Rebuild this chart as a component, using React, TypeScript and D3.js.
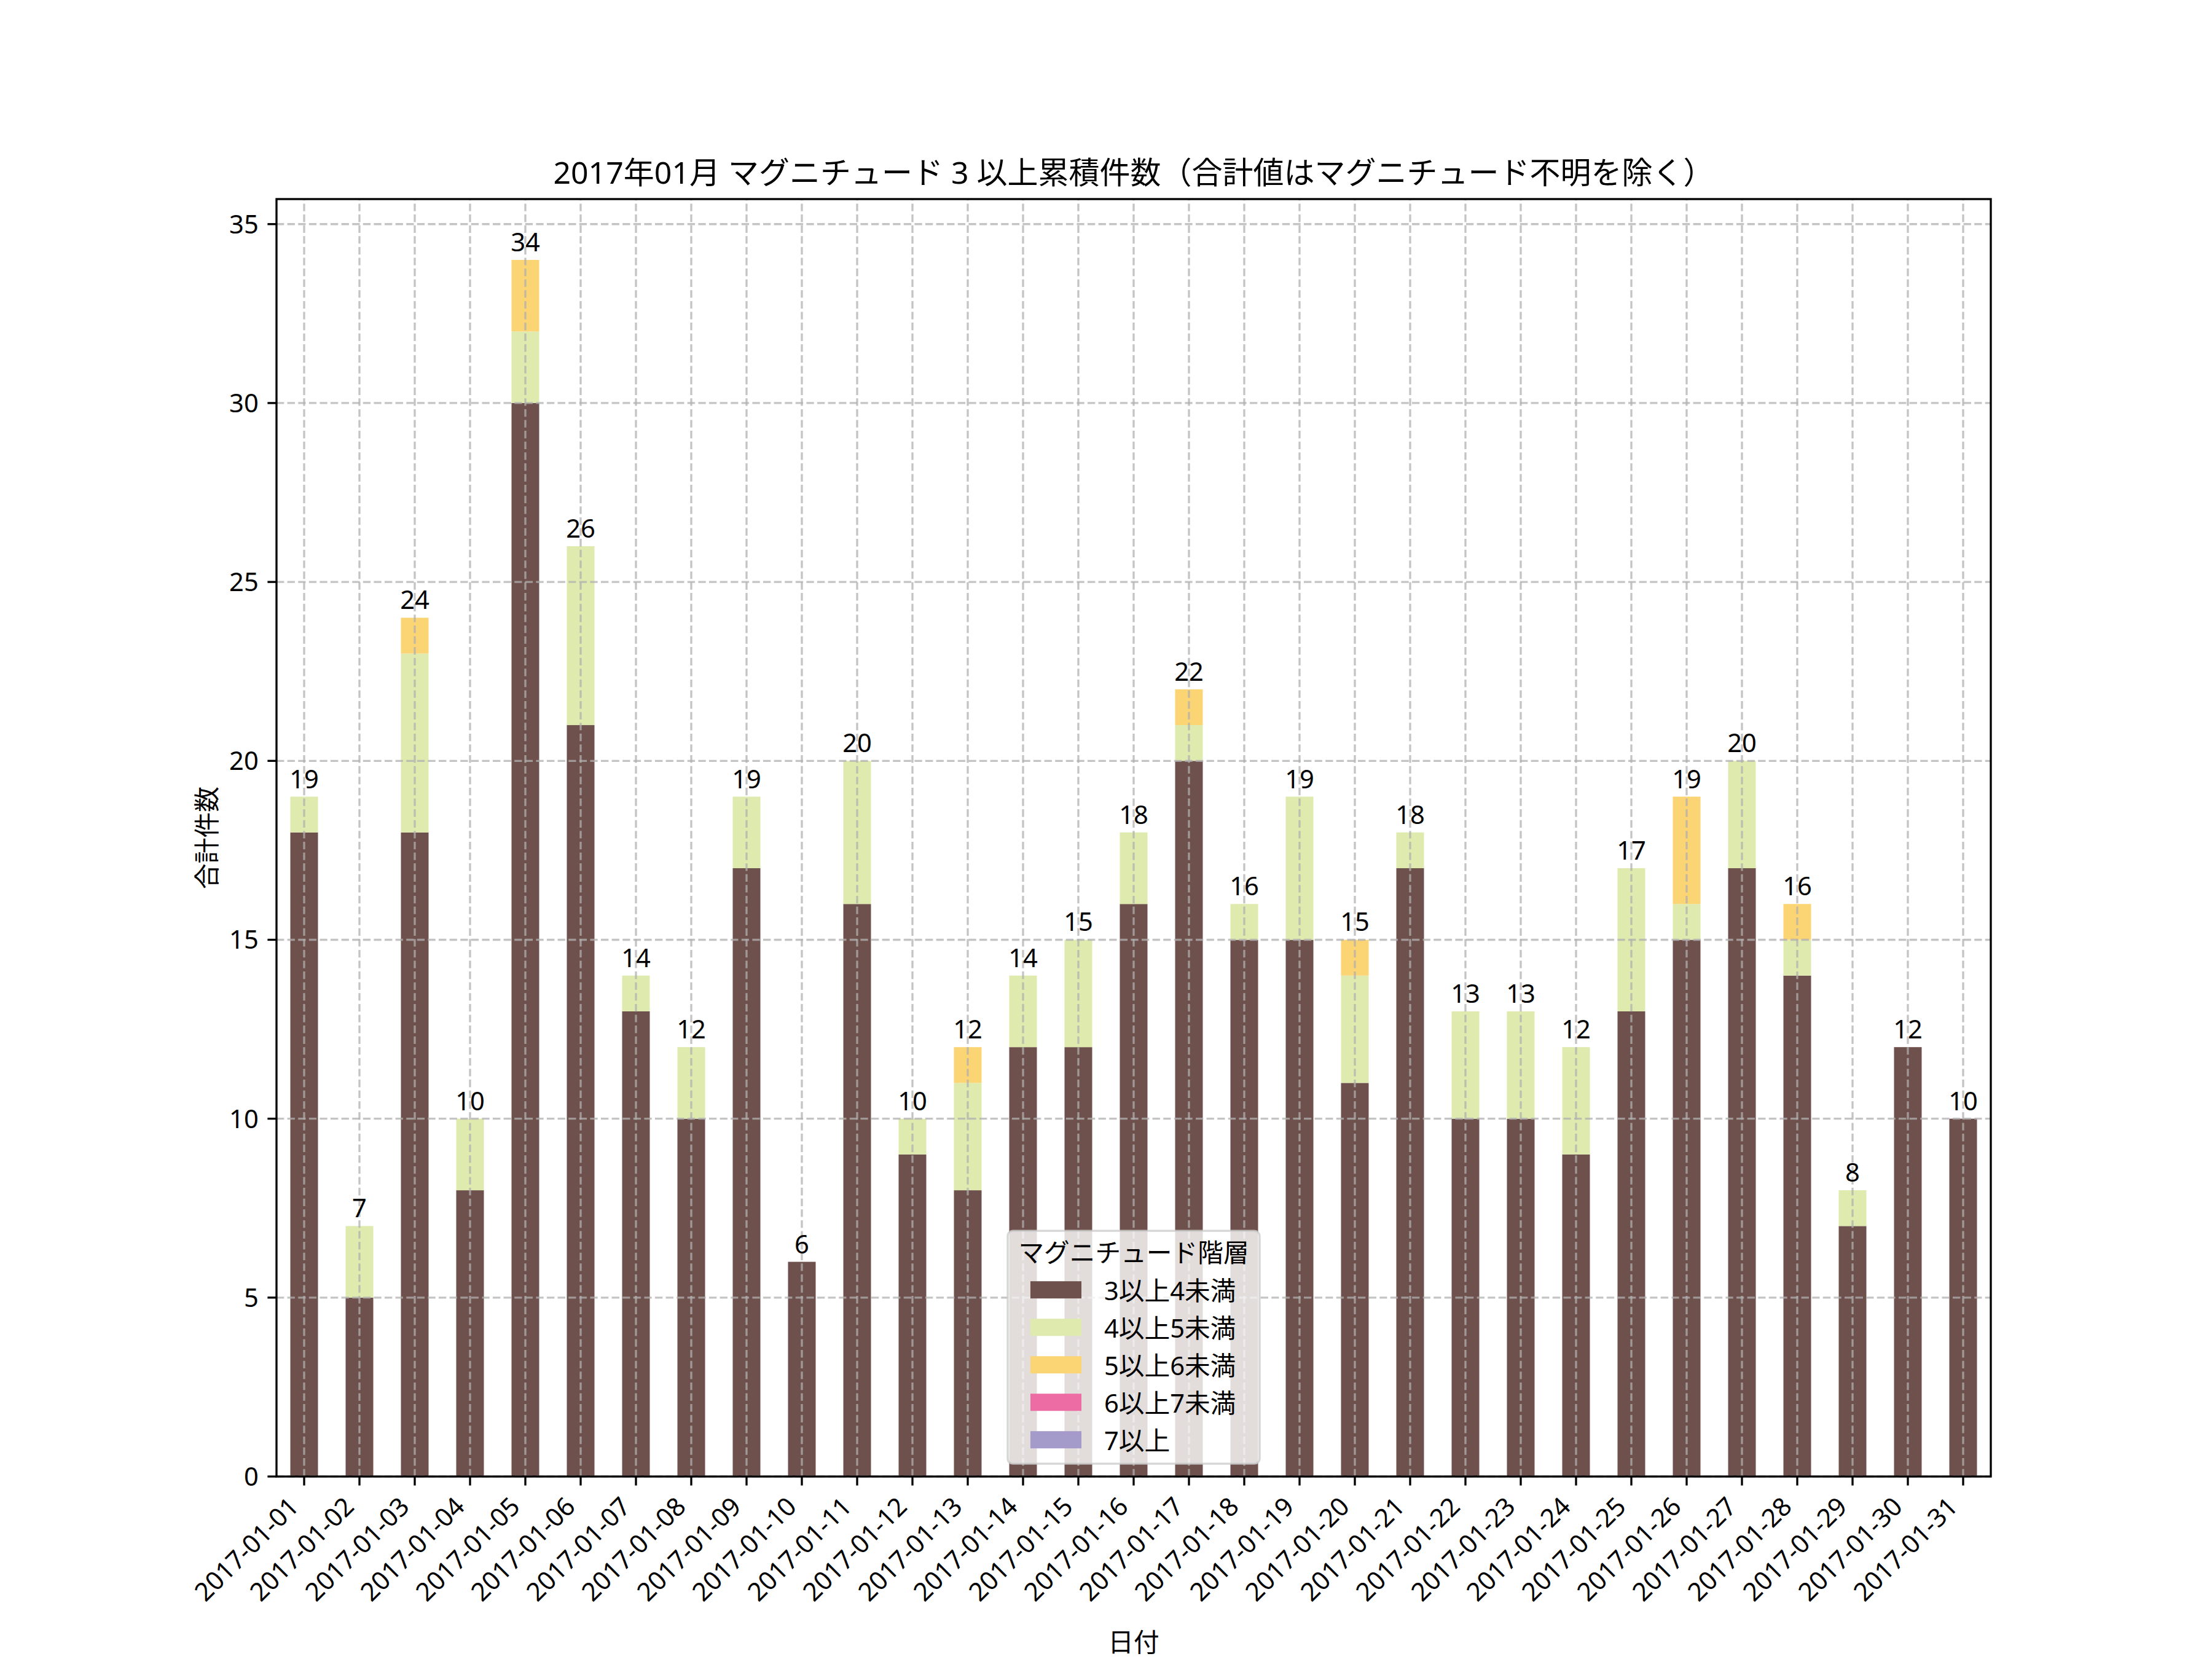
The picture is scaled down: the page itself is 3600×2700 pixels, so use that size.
import * as React from 'react'
import * as d3 from 'd3'

// 2017年01月 マグニチュード別 日別件数
const dates = [
  '2017-01-01', '2017-01-02', '2017-01-03', '2017-01-04', '2017-01-05', '2017-01-06', '2017-01-07',
  '2017-01-08', '2017-01-09', '2017-01-10', '2017-01-11', '2017-01-12', '2017-01-13', '2017-01-14',
  '2017-01-15', '2017-01-16', '2017-01-17', '2017-01-18', '2017-01-19', '2017-01-20', '2017-01-21',
  '2017-01-22', '2017-01-23', '2017-01-24', '2017-01-25', '2017-01-26', '2017-01-27', '2017-01-28',
  '2017-01-29', '2017-01-30', '2017-01-31',
]
const m3to4 = [18, 5, 18, 8, 30, 21, 13, 10, 17, 6, 16, 9, 8, 12, 12, 16, 20, 15, 15, 11, 17, 10, 10, 9, 13, 15, 17, 14, 7, 12, 10]
const m4to5 = [1, 2, 5, 2, 2, 5, 1, 2, 2, 0, 4, 1, 3, 2, 3, 2, 1, 1, 4, 3, 1, 3, 3, 3, 4, 1, 3, 1, 1, 0, 0]
const m5to6 = [0, 0, 1, 0, 2, 0, 0, 0, 0, 0, 0, 0, 1, 0, 0, 0, 1, 0, 0, 1, 0, 0, 0, 0, 0, 3, 0, 1, 0, 0, 0]
const m6to7 = [0, 0, 0, 0, 0, 0, 0, 0, 0, 0, 0, 0, 0, 0, 0, 0, 0, 0, 0, 0, 0, 0, 0, 0, 0, 0, 0, 0, 0, 0, 0]
const m7plus = [0, 0, 0, 0, 0, 0, 0, 0, 0, 0, 0, 0, 0, 0, 0, 0, 0, 0, 0, 0, 0, 0, 0, 0, 0, 0, 0, 0, 0, 0, 0]

const keys = ['3以上4未満', '4以上5未満', '5以上6未満', '6以上7未満', '7以上']
const series = [m3to4, m4to5, m5to6, m6to7, m7plus]
const colors = ['#6e514c', '#dfeaae', '#fbd474', '#ec6ca3', '#a59bca']
const yTicks = [0, 5, 10, 15, 20, 25, 30, 35]

const W = 3600
const H = 2700
const margin = { left: 450, right: 360, top: 324, bottom: 297 }
const FONT = '"Noto Sans", "Noto Sans CJK JP", sans-serif'
const FS = 41.7
const LW = 3.33

export default function App () {
  const rows = dates.map((d, i) => {
    const r: any = { date: d }
    keys.forEach((k, j) => { r[k] = series[j][i] })
    return r
  })
  const totals = dates.map((_, i) => d3.sum(series, s => s[i]))
  const stacked = d3.stack().keys(keys)(rows)

  const x0 = margin.left
  const x1 = W - margin.right
  const y0 = H - margin.bottom
  const y1 = margin.top

  const x = d3.scaleBand().domain(dates).range([x0, x1]).paddingInner(0.5).paddingOuter(0.25)
  const yMax = (d3.max(totals) as number) * 1.05
  const y = d3.scaleLinear().domain([0, yMax]).range([y0, y1])

  const cx = (d: string) => (x(d) as number) + x.bandwidth() / 2
  const tick = 14.6
  const grid = { stroke: '#b0b0b0', strokeOpacity: 0.75, strokeWidth: LW, strokeDasharray: '12.3 5.3' }

  // legend
  const legW = 410
  const legH = 379
  const legX = (x0 + x1) / 2 - legW / 2
  const legY = y0 - 20.8 - legH
  const rowGap = 61

  return <svg width={W} height={H} style={{ position: 'absolute', left: 0, top: 0, display: 'block' }}
    fontFamily={FONT}>
    <rect width={W} height={H} fill="#fff" />

    {stacked.map((layer, j) => <g key={keys[j]} fill={colors[j]}>
      {layer.map((seg, i) => seg[1] - seg[0] > 0 &&
        <rect key={i} x={x(dates[i])} width={x.bandwidth()}
          y={y(seg[1])} height={y(seg[0]) - y(seg[1])} />)}
    </g>)}

    <g {...grid}>
      {yTicks.map(t => <line key={t} x1={x0} x2={x1} y1={y(t)} y2={y(t)} />)}
      {dates.map(d => <line key={d} x1={cx(d)} x2={cx(d)} y1={y0} y2={y1} />)}
    </g>

    {dates.map((d, i) => <text key={d} x={cx(d)} y={y(totals[i]) - 14} fontSize={FS}
      textAnchor="middle">{totals[i]}</text>)}

    <g stroke="#000" strokeWidth={LW}>
      {yTicks.map(t => <line key={t} x1={x0 - tick} x2={x0} y1={y(t)} y2={y(t)} />)}
      {dates.map(d => <line key={d} x1={cx(d)} x2={cx(d)} y1={y0} y2={y0 + tick} />)}
    </g>
    {yTicks.map(t => <text key={t} x={x0 - 2 * tick} y={y(t)} dy="0.36em" fontSize={FS}
      textAnchor="end">{t}</text>)}
    {dates.map(d => {
      const ax = cx(d) - 0.707 * 0.22 * FS
      const ay = y0 + 2 * tick + 0.707 * 0.76 * FS
      return <text key={d} x={ax} y={ay} fontSize={FS} textAnchor="end"
        transform={`rotate(-45 ${ax} ${ay})`}>{d}</text>
    })}

    <rect x={x0} y={y1} width={x1 - x0} height={y0 - y1} fill="none" stroke="#000" strokeWidth={LW} />

    <text x={(x0 + x1) / 2} y={y1 - 25} fontSize={50} textAnchor="middle">
      2017年01月 マグニチュード 3 以上累積件数（合計値はマグニチュード不明を除く）
    </text>
    <text x={(x0 + x1) / 2} y={2688} fontSize={FS} textAnchor="middle">日付</text>
    <text transform={`translate(335, ${(y0 + y1) / 2}) rotate(-90)`} fontSize={FS}
      textAnchor="middle" dominantBaseline="central">合計件数</text>

    <g>
      <rect x={legX} y={legY} width={legW} height={legH} rx={8.3} fill="#fff" fillOpacity={0.8}
        stroke="#cccccc" strokeOpacity={0.8} strokeWidth={LW} />
      <text x={legX + legW / 2} y={legY + 34} fontSize={FS} textAnchor="middle"
        dominantBaseline="central">マグニチュード階層</text>
      {keys.map((k, j) => {
        const ry = legY + 96 + j * rowGap
        return <g key={k}>
          <rect x={legX + 37} y={ry - 14} width={83} height={28} fill={colors[j]} />
          <text x={legX + 157} y={ry} fontSize={FS} dominantBaseline="central">{k}</text>
        </g>
      })}
    </g>
  </svg>
}
